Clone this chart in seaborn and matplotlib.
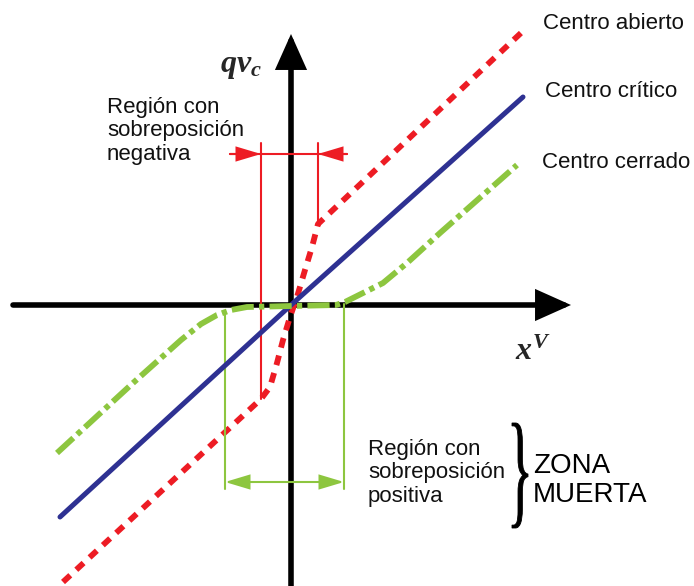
import numpy as np
import pandas as pd
import seaborn as sns
import matplotlib
matplotlib.use("Agg")
import matplotlib.pyplot as plt
from matplotlib.patches import FancyArrowPatch, PathPatch
from matplotlib.textpath import TextPath
from matplotlib.font_manager import FontProperties
from matplotlib.transforms import Affine2D

# Valve flow curves: qv_c versus spool displacement x^V (arbitrary units, origin at the axes crossing)
x_critico = [-231, 0, 232]
y_critico = [-212, 0, 208]

x_abierto = [-228, -30, -21, -14, -8, -1, 6, 14, 21, 27, 231]
y_abierto = [-277, -94, -82, -58, -35, -12, 8, 35, 58, 81, 273]

x_cerrado = [-234, -158, -110, -90, -74, -60, -44, 0, 45, 54, 72, 92, 116, 149, 226]
y_cerrado = [-148, -78, -35, -19, -10, -5, -2, -1, 0, 3, 12, 22, 42, 72, 140]

# Overlap regions
neg_overlap = [-30, 27]      # open-centre (negative overlap) limits
pos_overlap = [-66, 53]      # closed-centre (positive overlap / dead zone) limits

series_labels = ["Centro abierto", "Centro crítico", "Centro cerrado"]
neg_label = "Región con\nsobreposición\nnegativa"
pos_label = "Región con\nsobreposición\npositiva"
dead_zone_label = "ZONA\nMUERTA"

RED = "#ed1c24"
BLUE = "#2e3192"
GREEN = "#8dc63f"

sns.set_style("white")
plt.rcParams["font.family"] = ["Liberation Sans", "DejaVu Sans"]
plt.rcParams["mathtext.fontset"] = "custom"
plt.rcParams["mathtext.it"] = "Liberation Serif:italic:bold"
plt.rcParams["mathtext.rm"] = "Liberation Serif:bold"

fig = plt.figure(figsize=(6.94, 5.86), dpi=100)
ax = fig.add_axes([0, 0, 1, 1])
ax.set_xlim(-291, 403)
ax.set_ylim(-281, 305)
ax.axis("off")

# Coordinate axes with arrow heads
def arrow(p0, p1, lw, color, hl, hw, style="-|>", z=2):
    a = FancyArrowPatch(p0, p1, arrowstyle=f"{style},head_length={hl},head_width={hw}",
                        mutation_scale=1, lw=lw, color=color, shrinkA=0, shrinkB=0,
                        zorder=z, joinstyle="miter")
    ax.add_patch(a)

arrow((-278, 0), (280, 0), 4, "black", 19, 8.5)
arrow((0, -285), (0, 271), 4, "black", 19, 8.5)

# Flow curves
df_c = pd.DataFrame({"x": x_critico, "y": y_critico})
df_a = pd.DataFrame({"x": x_abierto, "y": y_abierto})
df_z = pd.DataFrame({"x": x_cerrado, "y": y_cerrado})

sns.lineplot(data=df_a, x="x", y="y", ax=ax, sort=False, estimator=None,
             color=RED, lw=4.2, zorder=3)
ax.lines[-1].set_linestyle((0, (1.7, 1.4)))
ax.lines[-1].set_dash_capstyle("butt")
sns.lineplot(data=df_c, x="x", y="y", ax=ax, sort=False, estimator=None,
             color=BLUE, lw=3.6, zorder=4)
sns.lineplot(data=df_z, x="x", y="y", ax=ax, sort=False, estimator=None,
             color=GREEN, lw=4.2, zorder=5)
ax.lines[-1].set_linestyle((0, (3.8, 0.9, 0.9, 0.9)))
ax.lines[-1].set_dash_capstyle("butt")

# Negative overlap markers (red)
ax.plot([neg_overlap[0], neg_overlap[0]], [162, y_abierto[1]], color=RED, lw=1.5, zorder=3)
ax.plot([neg_overlap[1], neg_overlap[1]], [162, y_abierto[-2]], color=RED, lw=1.5, zorder=3)
ax.plot([-61, 56], [151, 151], color=RED, lw=1.5, zorder=3)
arrow((-61, 151), (neg_overlap[0], 151), 1.5, RED, 15, 4.5, z=3)
arrow((56, 151), (neg_overlap[1], 151), 1.5, RED, 15, 4.5, z=3)

# Positive overlap markers (green)
ax.plot([pos_overlap[0], pos_overlap[0]], [-7, -184], color=GREEN, lw=1.5, zorder=3)
ax.plot([pos_overlap[1], pos_overlap[1]], [1, -184], color=GREEN, lw=1.5, zorder=3)
arrow((pos_overlap[0], -177), (pos_overlap[1], -177), 1.5, GREEN, 15, 4.5, style="<|-|>", z=3)

# Axis titles
ax.text(-71, 233, r"$qv_c$", fontsize=23, va="baseline", ha="left")
ax.text(224, -55, r"$x^V$", fontsize=23, va="baseline", ha="left")

# Curve labels
for lab, (tx, ty) in zip(series_labels, [(252, 276), (254, 208), (251, 137)]):
    ax.text(tx, ty, lab, fontsize=16, va="baseline", ha="left", color="#111111")

# Multi-line labels: anchored on the baseline of their last line
ax.text(-184, 145, neg_label, fontsize=16, va="baseline", ha="left",
        color="#111111", linespacing=1.17)
ax.text(77, -197, pos_label, fontsize=16, va="baseline", ha="left",
        color="#111111", linespacing=1.17)
ax.text(242, -197, dead_zone_label, fontsize=20, va="baseline", ha="left",
        color="black", linespacing=1.15)

# Curly brace grouping the dead-zone label
brace = TextPath((0, 0), "}", size=1, prop=FontProperties(family="Liberation Serif"))
bb = brace.get_extents()
bx0, bx1, by0, by1 = 221, 237, -223, -118
tr = (Affine2D().translate(-bb.x0, -bb.y0)
      .scale((bx1 - bx0) / bb.width, (by1 - by0) / bb.height)
      .translate(bx0, by0))
ax.add_patch(PathPatch(tr.transform_path(brace), facecolor="black", edgecolor="black",
                       lw=0.6, zorder=3))

fig.savefig("out.png", dpi=100)
